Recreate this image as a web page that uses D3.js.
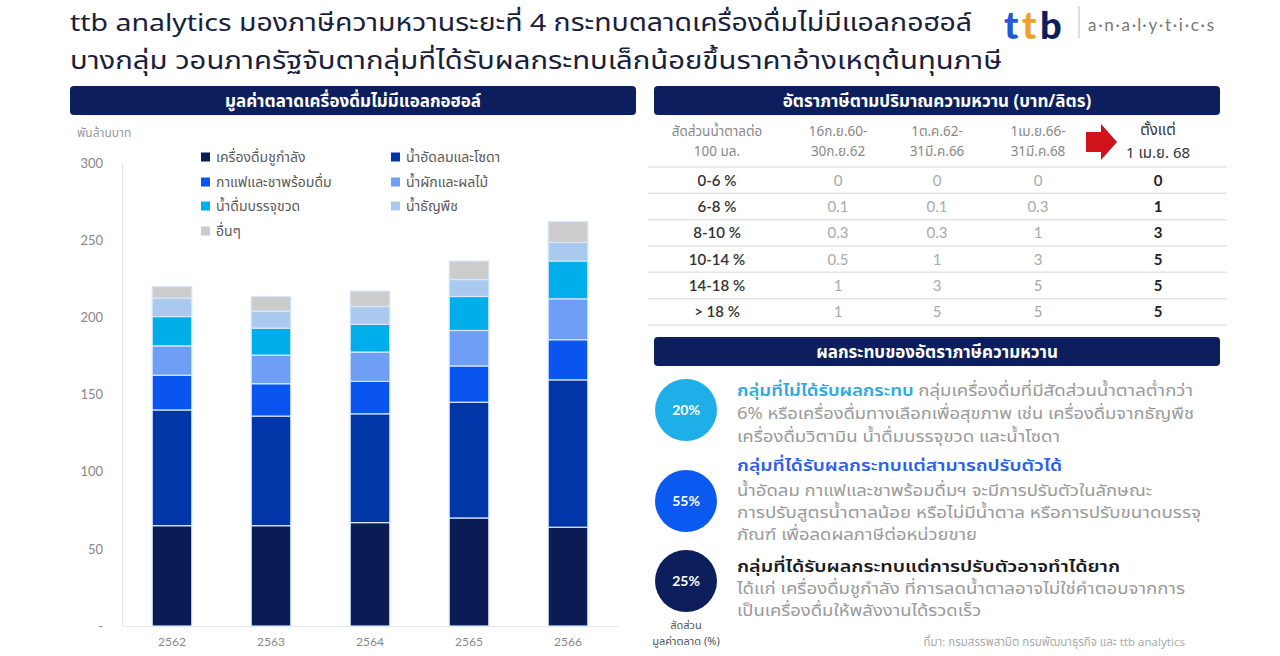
<!DOCTYPE html>
<html><head><meta charset="utf-8">
<script src="https://cdn.jsdelivr.net/npm/d3@7/dist/d3.min.js"></script>
<style>
html,body{margin:0;padding:0;background:#fff;}
svg{display:block;font-family:"Noto Sans Thai","Noto Sans","Open Sans",sans-serif;}
</style></head>
<body>
<svg id="c" width="1280" height="656"></svg>
<script>
// ---------- data ----------
const years = ["2562","2563","2564","2565","2566"];
const energy = [65, 65, 67, 70, 64];
const soda   = [75, 71, 70.5, 75, 95.5];
const coffee = [22.5, 21, 21, 23.5, 26];
const juice  = [19, 18.5, 19, 23, 26.5];
const water  = [19, 17.5, 18, 22, 24.5];
const grains = [12, 11, 11.5, 11, 12];
const others = [7.5, 9.5, 10, 12, 13.5];
const seriesNames = ["เครื่องดื่มชูกำลัง","น้ำอัดลมและโซดา","กาแฟและชาพร้อมดื่ม","น้ำผักและผลไม้","น้ำดื่มบรรจุขวด","น้ำธัญพืช","อื่นๆ"];
const yTicks = [0,50,100,150,200,250,300];

const sugarBands = ["0-6 %","6-8 %","8-10 %","10-14 %","14-18 %","> 18 %"];
const periodTop = ["16ก.ย.60-","1ต.ค.62-","1เม.ย.66-","ตั้งแต่"];
const periodBottom = ["30ก.ย.62","31มี.ค.66","31มี.ค.68","1 เม.ย. 68"];
const rate1 = ["0","0.1","0.3","0.5","1","1"];
const rate2 = ["0","0.1","0.3","1","3","5"];
const rate3 = ["0","0.3","1","3","5","5"];
const rate4 = ["0","1","3","5","5","5"];

const groupShares = ["20%","55%","25%"];

// ---------- setup ----------
const svg = d3.select("#c");
const NAVY = "#0c1f5c";
const colors = ["#0b1c55","#0036a8","#0a55f0","#6e9ff5","#00aeea","#a9c9ee","#cccccc"];
const seriesVals = [energy, soda, coffee, juice, water, grains, others];

// Title
const title = svg.append("g").attr("fill","#18203d");
title.append("text").attr("x",70).attr("y",31).attr("font-size",24)
  .attr("textLength",902).attr("lengthAdjust","spacingAndGlyphs")
  .text("ttb analytics มองภาษีความหวานระยะที่ 4 กระทบตลาดเครื่องดื่มไม่มีแอลกอฮอล์");
title.append("text").attr("x",70).attr("y",69).attr("font-size",24)
  .attr("textLength",932).attr("lengthAdjust","spacingAndGlyphs")
  .text("บางกลุ่ม วอนภาครัฐจับตากลุ่มที่ได้รับผลกระทบเล็กน้อยขึ้นราคาอ้างเหตุต้นทุนภาษี");

// Logo
const logo = svg.append("g").attr("font-family","Lato, sans-serif").attr("font-weight",900).attr("font-size",38);
[["t",1004,"#1f5ad8"],["t",1022,"#f0a02c"],["b",1040,"#0c1f5c"]].forEach(d=>{
  logo.append("text").attr("x",d[1]).attr("y",39).attr("fill",d[2]).text(d[0]);
});
logo.append("line").attr("x1",1079).attr("x2",1079).attr("y1",6).attr("y2",38).attr("stroke","#bbb").attr("stroke-width",1);
logo.append("text").attr("x",1088).attr("y",31).attr("font-size",17).attr("font-weight",400).attr("fill","#777")
  .attr("textLength",126).attr("lengthAdjust","spacing")
  .text("a·n·a·l·y·t·i·c·s");

// Header bars
function header(x, y, w, h, txt){
  svg.append("rect").attr("x",x).attr("y",y).attr("width",w).attr("height",h).attr("rx",4).attr("fill",NAVY);
  svg.append("text").attr("x",x+w/2).attr("y",y+h/2+6).attr("text-anchor","middle")
    .attr("font-size",17).attr("font-weight",700).attr("fill","#fff").text(txt);
}
header(70, 86, 566, 29, "มูลค่าตลาดเครื่องดื่มไม่มีแอลกอฮอล์");
header(654, 86, 566, 29, "อัตราภาษีตามปริมาณความหวาน (บาท/ลิตร)");
header(654, 337, 566, 29, "ผลกระทบของอัตราภาษีความหวาน");

// ---------- stacked bar chart ----------
const x = d3.scaleBand().domain(years).range([122.5, 617.5]).paddingInner(0.6).paddingOuter(0.3);
const y = d3.scaleLinear().domain([0,300]).range([626,163]);

const rows = years.map((yr,i)=>{ const o={year:yr}; seriesNames.forEach((s,k)=>o[s]=seriesVals[k][i]); return o; });
const stack = d3.stack().keys(seriesNames)(rows);

svg.append("text").attr("x",77).attr("y",137).attr("font-size",12).attr("fill","#999").text("พันล้านบาท");

const yAxis = svg.append("g").attr("transform","translate(122,0)")
  .call(d3.axisLeft(y).tickValues(yTicks).tickSize(0).tickPadding(19).tickFormat(d=>d===0?"-":d));
yAxis.select(".domain").attr("stroke","#e6e6e6");
yAxis.selectAll("text").attr("font-size",13).attr("fill","#888").attr("font-family","Lato, sans-serif");

const xAxis = svg.append("g").attr("transform","translate(0,626)")
  .call(d3.axisBottom(x).tickSize(0).tickPadding(11));
xAxis.select(".domain").attr("stroke","#e6e6e6");
xAxis.selectAll("text").attr("font-size",12).attr("fill","#888").attr("font-family","Lato, sans-serif");

svg.append("g").selectAll("g").data(stack).join("g").attr("fill",(d,i)=>colors[i])
  .selectAll("rect").data(d=>d).join("rect")
  .attr("x",d=>x(d.data.year)).attr("width",x.bandwidth())
  .attr("y",d=>y(d[1])).attr("height",d=>y(d[0])-y(d[1]))
  .attr("stroke","#d8e6ff").attr("stroke-width",1.2);

// legend
const leg = svg.append("g").selectAll("g").data(seriesNames).join("g")
  .attr("transform",(d,i)=>`translate(${i%2===0?201:391},${[157,182,206,231][Math.floor(i/2)]})`);
leg.append("rect").attr("x",0).attr("y",-4.5).attr("width",9).attr("height",9).attr("fill",(d,i)=>colors[i]);
leg.append("text").attr("x",15).attr("y",5).attr("font-size",14).attr("fill","#5a5a5a").text(d=>d);

// ---------- tax table ----------
const colX = [717, 838, 937, 1038, 1158];
const ry = d3.scaleBand().domain(sugarBands).range([167, 325]);
const tbl = svg.append("g");
tbl.append("text").attr("x",colX[0]).attr("y",136).attr("text-anchor","middle").attr("font-size",13.5).attr("fill","#888").text("สัดส่วนน้ำตาลต่อ");
tbl.append("text").attr("x",colX[0]).attr("y",156).attr("text-anchor","middle").attr("font-size",13.5).attr("fill","#888").text("100 มล.");
periodTop.forEach((t,i)=>{
  const last = i===3;
  tbl.append("text").attr("x",colX[i+1]).attr("y",last?135:136).attr("text-anchor","middle")
    .attr("font-size",last?15:13.5).attr("fill",last?"#333":"#888").text(t);
  tbl.append("text").attr("x",colX[i+1]).attr("y",last?158:156).attr("text-anchor","middle")
    .attr("font-size",last?15:13.5).attr("fill",last?"#333":"#888").text(periodBottom[i]);
});
// red arrow
tbl.append("path").attr("d","M1086,132 L1101,132 L1101,124 L1117,142 L1101,160 L1101,152 L1086,152 Z").attr("fill","#d0121b");

const lines = [167].concat(sugarBands.map(b=>ry(b)+ry.bandwidth()));
tbl.selectAll("line.rl").data(lines).join("line").attr("class","rl")
  .attr("x1",648).attr("x2",1227).attr("y1",d=>d).attr("y2",d=>d).attr("stroke","#e4e4e4").attr("stroke-width",1.5);

const cols = [sugarBands, rate1, rate2, rate3, rate4];
cols.forEach((col,ci)=>{
  tbl.selectAll(null).data(col).join("text")
    .attr("x",colX[ci]).attr("y",(d,i)=>ry(sugarBands[i])+ry.bandwidth()/2+5.5)
    .attr("text-anchor","middle").attr("font-size",15)
    .attr("font-weight",ci===0?600:(ci===4?700:400))
    .attr("fill",ci===0?"#333":(ci===4?"#222":"#aaa"))
    .attr("font-family","Lato, 'Noto Sans', sans-serif")
    .text(d=>d);
});

// ---------- impact section ----------
const circ = [{cy:410, fill:"#1eaee8"},{cy:501, fill:"#0a5af2"},{cy:581, fill:"#0c1f5c"}];
const ig = svg.append("g");
ig.selectAll("circle").data(circ).join("circle").attr("cx",686).attr("cy",d=>d.cy).attr("r",31).attr("fill",d=>d.fill);
ig.selectAll("text.pct").data(groupShares).join("text").attr("class","pct")
  .attr("x",686).attr("y",(d,i)=>circ[i].cy+5).attr("text-anchor","middle")
  .attr("font-size",14).attr("font-weight",700).attr("fill","#fff").attr("font-family","Lato, sans-serif").text(d=>d);
ig.append("text").attr("x",686).attr("y",629).attr("text-anchor","middle").attr("font-size",11).attr("fill","#555").text("สัดส่วน");
ig.append("text").attr("x",686).attr("y",645).attr("text-anchor","middle").attr("font-size",11).attr("fill","#555").text("มูลค่าตลาด (%)");

function tline(yy, w, parts){
  const t = ig.append("text").attr("x",737).attr("y",yy).attr("font-size",16)
    .attr("textLength",w).attr("lengthAdjust","spacingAndGlyphs");
  parts.forEach(p=>t.append("tspan").attr("fill",p[1]).attr("font-weight",p[2]||400).text(p[0]));
}
const G = "#9a9a9a";
tline(396, 456, [["กลุ่มที่ไม่ได้รับผลกระทบ","#2aa9e2",600],[" กลุ่มเครื่องดื่มที่มีสัดส่วนน้ำตาลต่ำกว่า",G]]);
tline(419, 457, [["6% หรือเครื่องดื่มทางเลือกเพื่อสุขภาพ เช่น เครื่องดื่มจากธัญพืช",G]]);
tline(442, 323, [["เครื่องดื่มวิตามิน น้ำดื่มบรรจุขวด และน้ำโซดา",G]]);
tline(471, 325, [["กลุ่มที่ได้รับผลกระทบแต่สามารถปรับตัวได้","#2a60ee",600]]);
tline(496, 415, [["น้ำอัดลม กาแฟและชาพร้อมดื่มฯ  จะมีการปรับตัวในลักษณะ",G]]);
tline(518, 464, [["การปรับสูตรน้ำตาลน้อย หรือไม่มีน้ำตาล  หรือการปรับขนาดบรรจุ",G]]);
tline(540, 240, [["ภัณฑ์ เพื่อลดผลภาษีต่อหน่วยขาย",G]]);
tline(572, 383, [["กลุ่มที่ได้รับผลกระทบแต่การปรับตัวอาจทำได้ยาก","#1a1a22",600]]);
tline(594, 448, [["ได้แก่ เครื่องดื่มชูกำลัง ที่การลดน้ำตาลอาจไม่ใช่คำตอบจากการ",G]]);
tline(616, 244, [["เป็นเครื่องดื่มให้พลังงานได้รวดเร็ว",G]]);

svg.append("text").attr("x",1185).attr("y",646).attr("text-anchor","end").attr("font-size",11.5).attr("fill","#aaa")
  .text("ที่มา: กรมสรรพสามิต กรมพัฒนาธุรกิจ และ ttb analytics");
</script>
</body></html>
